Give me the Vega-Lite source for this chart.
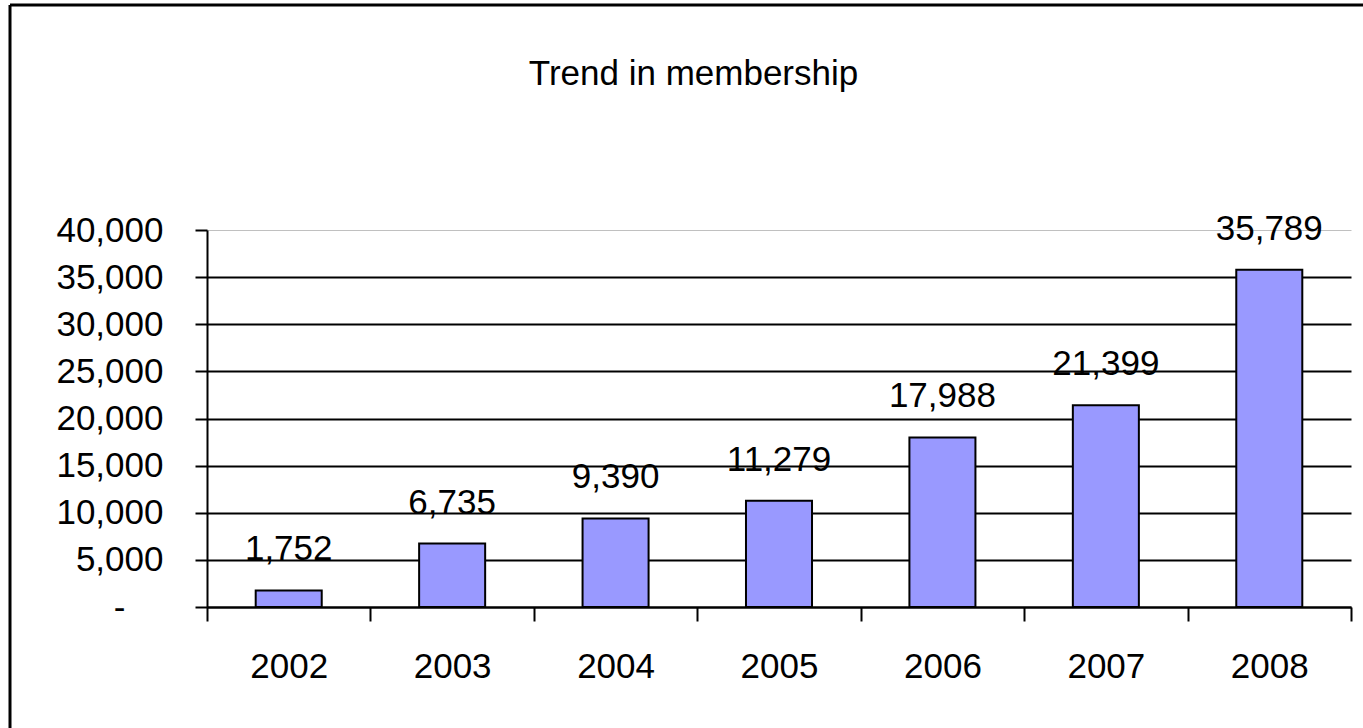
{
  "$schema": "https://vega.github.io/schema/vega-lite/v6.json",
  "width": 1353,
  "height": 723,
  "autosize": {"type": "none"},
  "padding": {"left": 10, "top": 5, "right": 0, "bottom": 0},
  "background": "white",
  "config": {
    "font": "Liberation Sans",
    "view": {"stroke": "black", "strokeWidth": 3, "strokeDash": [1353, 2076, 723, 0]}
  },
  "title": {
    "text": "Trend in membership",
    "fontSize": 35,
    "font": "Liberation Sans",
    "fontWeight": "normal",
    "color": "black",
    "anchor": "middle",
    "frame": "group",
    "baseline": "alphabetic",
    "offset": -115,
    "dx": 7
  },
  "data": {
    "values": [
      {"year": "2002", "members": 1752},
      {"year": "2003", "members": 6735},
      {"year": "2004", "members": 9390},
      {"year": "2005", "members": 11279},
      {"year": "2006", "members": 17988},
      {"year": "2007", "members": 21399},
      {"year": "2008", "members": 35789}
    ]
  },
  "encoding": {
    "x": {
      "field": "year",
      "type": "nominal",
      "sort": null,
      "scale": {"range": [197, 1341], "paddingInner": 0, "paddingOuter": 0},
      "axis": {
        "title": null,
        "offset": -121,
        "labelAngle": 0,
        "labelFontSize": 35,
        "labelColor": "black",
        "labelPadding": 28,
        "tickBand": "extent",
        "tickSize": 14,
        "tickWidth": 2,
        "tickColor": "black",
        "domainColor": "black",
        "domainWidth": 2,
        "grid": false
      }
    },
    "y": {
      "field": "members",
      "type": "quantitative",
      "scale": {"domain": [0, 40000], "range": [602, 225], "nice": false},
      "axis": {
        "title": null,
        "offset": -197,
        "values": [0, 5000, 10000, 15000, 20000, 25000, 30000, 35000, 40000],
        "labelExpr": "datum.value == 0 ? '-' : format(datum.value, ',')",
        "labelFontSize": 35,
        "labelColor": "black",
        "labelPadding": {"condition": {"test": "datum.value == 0", "value": 70}, "value": 32},
        "tickSize": 12,
        "tickWidth": 2,
        "tickColor": "black",
        "domainColor": "black",
        "domainWidth": 2,
        "grid": true,
        "gridColor": {"condition": {"test": "datum.value == 40000", "value": "#c0c0c0"}, "value": "black"},
        "gridWidth": {"condition": {"test": "datum.value == 40000", "value": 1}, "value": 2},
        "gridOpacity": 1
      }
    }
  },
  "layer": [
    {
      "mark": {"type": "bar", "width": {"band": 0.404}, "color": "#9999FF", "stroke": "black", "strokeWidth": 2}
    },
    {
      "mark": {"type": "text", "baseline": "alphabetic", "dy": -30, "fontSize": 35, "color": "black"},
      "encoding": {"text": {"field": "members", "type": "quantitative", "format": ","}}
    }
  ]
}
